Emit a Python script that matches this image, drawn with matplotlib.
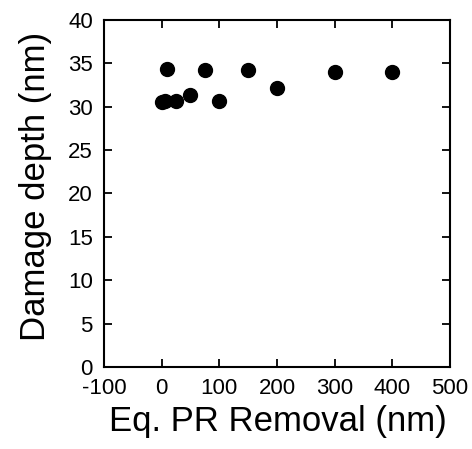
import matplotlib

matplotlib.use("Agg")
import matplotlib.pyplot as plt

# Eq. PR removal (nm) vs damage depth (nm)
pr_removal = [0, 5, 10, 25, 50, 75, 100, 150, 200, 300, 400]
damage_depth = [30.5, 30.7, 34.3, 30.7, 31.3, 34.2, 30.7, 34.2, 32.2, 34.0, 34.0]

x_ticks = [-100, 0, 100, 200, 300, 400, 500]
y_ticks = [0, 5, 10, 15, 20, 25, 30, 35, 40]

plt.rcParams["font.family"] = ["Liberation Sans", "DejaVu Sans"]
plt.rcParams["axes.unicode_minus"] = False

fig = plt.figure(figsize=(4.72, 4.49), dpi=100)
ax = fig.add_axes([0.2203, 0.1826, 0.733, 0.773])

ax.plot(pr_removal, damage_depth, "o", color="black", markersize=10, clip_on=False)

ax.set_xlim(-100, 500)
ax.set_ylim(0, 40)
ax.set_xticks(x_ticks)
ax.set_yticks(y_ticks)
ax.tick_params(direction="in", length=6, width=1.3, top=True, right=True,
               labelsize=16)
ax.tick_params(axis="x", pad=8)
ax.tick_params(axis="y", pad=8)
for side in ax.spines.values():
  side.set_linewidth(1.5)

ax.set_xlabel("Eq. PR Removal (nm)", fontsize=25)
ax.set_ylabel("Damage depth (nm)", fontsize=25)
ax.xaxis.set_label_coords(0.503, -0.11)
ax.yaxis.set_label_coords(-0.15, 0.52)

fig.savefig("out.png", dpi=100)
